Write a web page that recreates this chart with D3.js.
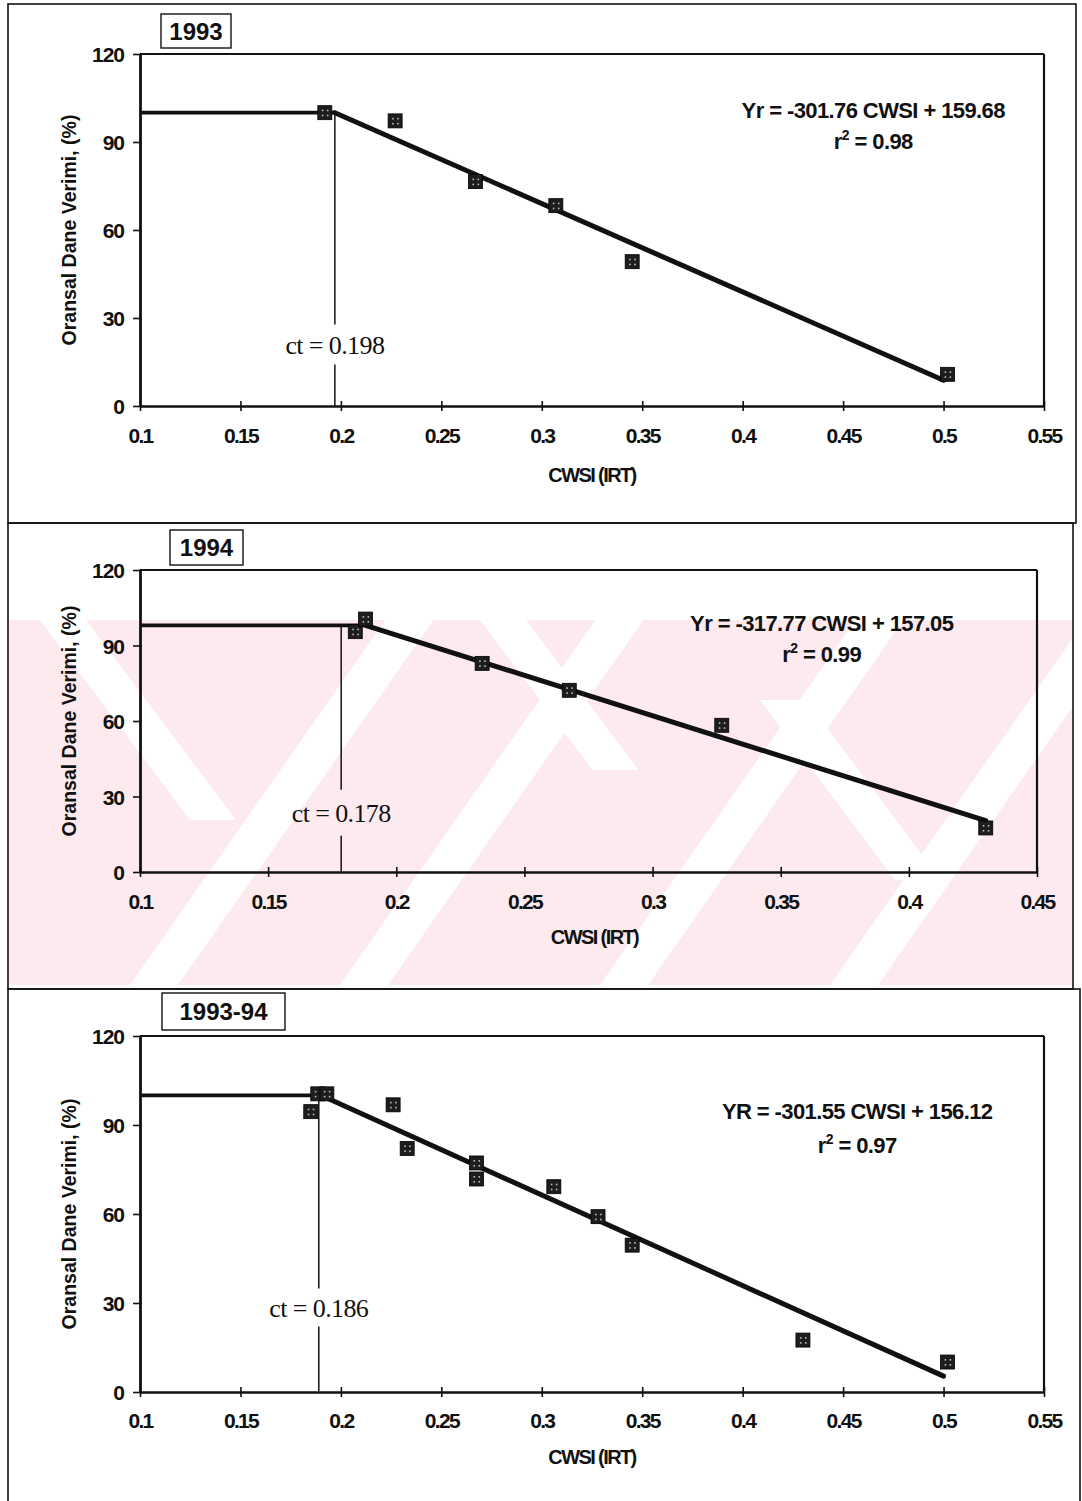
<!DOCTYPE html>
<html>
<head>
<meta charset="utf-8">
<script src="https://cdn.jsdelivr.net/npm/d3@7"></script>
<style>
  html, body { margin: 0; padding: 0; background: #fff; }
  svg { display: block; }
  .tick text { font-family: "Liberation Sans", Arial, sans-serif; font-weight: bold; }
</style>
</head>
<body>
<svg id="chart" width="1082" height="1501"></svg>
<script>
// ---------------- DATA ----------------
const panelTitles = ["1993", "1994", "1993-94"];

const cwsi1993  = [0.192, 0.227, 0.267, 0.307, 0.345, 0.502];
const yield1993 = [100.0, 97.2, 76.5, 68.3, 49.2, 10.8];

const cwsi1994  = [0.184, 0.188, 0.2335, 0.2675, 0.327, 0.430];
const yield1994 = [95.5, 100.5, 82.9, 72.2, 58.3, 17.5];

const cwsiPooled  = [0.185, 0.1885, 0.193, 0.226, 0.233, 0.2675, 0.2675, 0.306, 0.328, 0.345, 0.430, 0.502];
const yieldPooled = [94.5, 100.5, 100.5, 96.8, 82.1, 77.2, 71.8, 69.2, 59.1, 49.5, 17.5, 10.1];

const fitSlopes     = [-301.76, -317.77, -301.55];
const fitIntercepts = [159.68, 157.05, 156.12];
const fitR2         = ["0.98", "0.99", "0.97"];
const fitNames      = ["Yr", "Yr", "YR"];
const plateauLevels = [100, 98, 100];
const breakCwsi     = [0.197, 0.188, 0.190];
const fitEndCwsi    = [0.50, 0.43, 0.50];
const ctLineCwsi    = [0.197, 0.1785, 0.189];
const ctLabels      = ["0.198", "0.178", "0.186"];

const xTicksWide   = [0.1, 0.15, 0.2, 0.25, 0.3, 0.35, 0.4, 0.45, 0.5, 0.55];
const xTicksNarrow = [0.1, 0.15, 0.2, 0.25, 0.3, 0.35, 0.4, 0.45];
const xDomainMax   = [0.55, 0.45, 0.55];
const yTicks       = [0, 30, 60, 90, 120];

const yAxisTitle = "Oransal Dane Verimi, (%)";
const xAxisTitle = "CWSI (IRT)";

// ---------------- LAYOUT ----------------
const layouts = [
  { box: [8, 4, 1076, 523],   plot: [140, 1044, 54, 406],   title: [161, 14, 231, 48],
    xLabelDy: 37, xTitleDy: 76, eq: [0.465, 100.8], r2y: 90.3, ctLabelY: 21, gap: 20 },
  { box: [8, 523, 1073, 989], plot: [140, 1037, 570, 872],  title: [170, 530, 243, 565],
    xLabelDy: 37, xTitleDy: 72, eq: [0.366, 98.8], r2y: 86.6, ctLabelY: 23.5, gap: 23 },
  { box: [8, 989, 1080, 1512], plot: [140, 1044, 1036, 1392], title: [162, 993, 285, 1030],
    xLabelDy: 36, xTitleDy: 72, eq: [0.457, 94.5], r2y: 83.2, ctLabelY: 28.5, gap: 19 }
];

const datasets = [
  { x: cwsi1993, y: yield1993 },
  { x: cwsi1994, y: yield1994 },
  { x: cwsiPooled, y: yieldPooled }
];

const svg = d3.select("#chart");
const SANS = "'Liberation Sans', Arial, sans-serif";
const SERIF = "'Liberation Serif', 'Times New Roman', serif";

// ---------------- WATERMARK (pink pattern behind panel 2) ----------------
const wm = svg.append("g").attr("class", "watermark");
const wmClip = svg.append("clipPath").attr("id", "wmclip");
wmClip.append("rect").attr("x", 9).attr("y", 620).attr("width", 1063).attr("height", 365);
const wmg = wm.append("g").attr("clip-path", "url(#wmclip)");
wmg.append("rect").attr("x", 0).attr("y", 620).attr("width", 1082).attr("height", 365).attr("fill", "#fdeaee");
// white diagonal gaps ("/" direction)
[130, 340, 600, 830].forEach(bx => {
  const y0 = 985, y1 = 620, k = 0.7, w = 48;
  wmg.append("polygon")
    .attr("points", [[bx, y0], [bx + w, y0], [bx + w + k * (y0 - y1), y1], [bx + k * (y0 - y1), y1]].map(p => p.join(",")).join(" "))
    .attr("fill", "#fff");
});
// white diagonal gaps ("\" direction)
[[40, 620, 200], [480, 620, 150], [760, 700, 180]].forEach(([bx, by, len]) => {
  const k = 0.75, w = 46;
  wmg.append("polygon")
    .attr("points", [[bx, by], [bx + w, by], [bx + w + k * len, by + len], [bx + k * len, by + len]].map(p => p.join(",")).join(" "))
    .attr("fill", "#fff");
});

// ---------------- PANELS ----------------
layouts.forEach((L, i) => {
  const g = svg.append("g");
  const [px0, px1, py0, py1] = L.plot;

  // outer panel frame
  g.append("rect")
    .attr("x", L.box[0]).attr("y", L.box[1])
    .attr("width", L.box[2] - L.box[0]).attr("height", L.box[3] - L.box[1])
    .attr("fill", "none").attr("stroke", "#111").attr("stroke-width", 1.6);

  const x = d3.scaleLinear().domain([0.1, xDomainMax[i]]).range([px0, px1]);
  const y = d3.scaleLinear().domain([0, 120]).range([py1, py0]);

  // plot frame (top and right)
  g.append("line").attr("x1", px0).attr("x2", px1).attr("y1", py0).attr("y2", py0)
    .attr("stroke", "#111").attr("stroke-width", 2.2);
  g.append("line").attr("x1", px1).attr("x2", px1).attr("y1", py0).attr("y2", py1)
    .attr("stroke", "#111").attr("stroke-width", 2.2);

  // axes
  const xt = i === 1 ? xTicksNarrow : xTicksWide;
  const xAxis = g.append("g").attr("transform", `translate(0,${py1})`)
    .call(d3.axisBottom(x).tickValues(xt).tickFormat(d => String(+d.toFixed(2))).tickSize(5).tickSizeOuter(0));
  xAxis.select(".domain").attr("stroke", "#111").attr("stroke-width", 2.6);
  xAxis.selectAll(".tick line").attr("y1", -5).attr("y2", 5).attr("stroke", "#111").attr("stroke-width", 1.6);
  xAxis.selectAll(".tick text").attr("y", L.xLabelDy).attr("dy", 0)
    .attr("font-size", 21).attr("letter-spacing", -1.7).attr("fill", "#111");

  const yAxis = g.append("g").attr("transform", `translate(${px0},0)`)
    .call(d3.axisLeft(y).tickValues(yTicks).tickSize(6).tickSizeOuter(0));
  yAxis.select(".domain").attr("stroke", "#111").attr("stroke-width", 2.8);
  yAxis.selectAll(".tick line").attr("x1", -7).attr("x2", 2).attr("stroke", "#111").attr("stroke-width", 1.6);
  yAxis.selectAll(".tick text").attr("x", -16).attr("dy", "0.36em")
    .attr("font-size", 21).attr("letter-spacing", -1).attr("fill", "#111");

  // axis titles
  g.append("text")
    .attr("transform", `translate(${px0 - 71},${(py0 + py1) / 2}) rotate(-90)`)
    .attr("text-anchor", "middle").attr("dy", "0.35em")
    .attr("font-family", SANS).attr("font-weight", "bold").attr("font-size", 19.5)
    .attr("fill", "#111").text(yAxisTitle);
  g.append("text")
    .attr("x", (px0 + px1) / 2 + (i === 1 ? 6 : 0)).attr("y", py1 + L.xTitleDy)
    .attr("text-anchor", "middle")
    .attr("font-family", SANS).attr("font-weight", "bold").attr("font-size", 20)
    .attr("letter-spacing", -1.6).attr("fill", "#111").text(xAxisTitle);

  // title box
  const [tx0, ty0, tx1, ty1] = L.title;
  g.append("rect").attr("x", tx0).attr("y", ty0).attr("width", tx1 - tx0).attr("height", ty1 - ty0)
    .attr("fill", "#fff").attr("stroke", "#111").attr("stroke-width", 1.4);
  g.append("text").attr("x", (tx0 + tx1) / 2).attr("y", (ty0 + ty1) / 2).attr("dy", "0.36em")
    .attr("text-anchor", "middle").attr("font-family", SANS).attr("font-size", 24)
    .attr("font-weight", 600).attr("fill", "#111").text(panelTitles[i]);

  // ct vertical line (broken around its label)
  const cx = x(ctLineCwsi[i]);
  const ly = y(L.ctLabelY);
  g.append("line").attr("x1", cx).attr("x2", cx).attr("y1", y(plateauLevels[i])).attr("y2", ly - L.gap)
    .attr("stroke", "#111").attr("stroke-width", 1.5);
  g.append("line").attr("x1", cx).attr("x2", cx).attr("y1", ly + L.gap).attr("y2", y(0))
    .attr("stroke", "#111").attr("stroke-width", 1.5);
  g.append("text").attr("x", cx).attr("y", ly).attr("dy", "0.35em")
    .attr("text-anchor", "middle").attr("font-family", SERIF).attr("font-size", 26)
    .attr("letter-spacing", -0.6).attr("fill", "#111").text("ct = " + ctLabels[i]);

  // plateau + regression lines
  const fit = v => fitSlopes[i] * v + fitIntercepts[i];
  g.append("line")
    .attr("x1", x(0.1)).attr("x2", x(breakCwsi[i]))
    .attr("y1", y(plateauLevels[i])).attr("y2", y(plateauLevels[i]))
    .attr("stroke", "#111").attr("stroke-width", 3.6);
  g.append("path")
    .datum([[breakCwsi[i], plateauLevels[i]], [fitEndCwsi[i], fit(fitEndCwsi[i])]])
    .attr("d", d3.line().x(d => x(d[0])).y(d => y(d[1])))
    .attr("fill", "none").attr("stroke", "#111").attr("stroke-width", 5).attr("stroke-linecap", "round");

  // markers
  const pts = datasets[i].x.map((v, j) => [v, datasets[i].y[j]]);
  const m = g.selectAll("g.mk").data(pts).join("g").attr("class", "mk")
    .attr("transform", d => `translate(${x(d[0])},${y(d[1])})`);
  m.append("rect").attr("x", -7).attr("y", -7).attr("width", 14).attr("height", 14)
    .attr("fill", "#1d1d1d").attr("stroke", "#000").attr("stroke-width", 0.8);
  [[-3, -3], [2, -3], [-3, 2], [2, 2]].forEach(([dx, dy]) => {
    m.append("rect").attr("x", dx).attr("y", dy).attr("width", 1.6).attr("height", 1.6).attr("fill", "#bbb");
  });

  // equation
  g.append("text").attr("x", x(L.eq[0])).attr("y", y(L.eq[1]))
    .attr("text-anchor", "middle").attr("dy", "0.35em")
    .attr("font-family", SANS).attr("font-weight", "bold").attr("font-size", 22)
    .attr("letter-spacing", -0.6).attr("fill", "#111")
    .text(`${fitNames[i]} = ${fitSlopes[i]} CWSI + ${fitIntercepts[i].toFixed(2)}`);
  const r2 = g.append("text").attr("x", x(L.eq[0])).attr("y", y(L.r2y))
    .attr("text-anchor", "middle").attr("dy", "0.35em")
    .attr("font-family", SANS).attr("font-weight", "bold").attr("font-size", 22)
    .attr("letter-spacing", -0.6).attr("fill", "#111");
  r2.append("tspan").text("r");
  r2.append("tspan").attr("dy", -9).attr("font-size", 14).text("2");
  r2.append("tspan").attr("dy", 9).text(" = " + fitR2[i]);
});
</script>
</body>
</html>
